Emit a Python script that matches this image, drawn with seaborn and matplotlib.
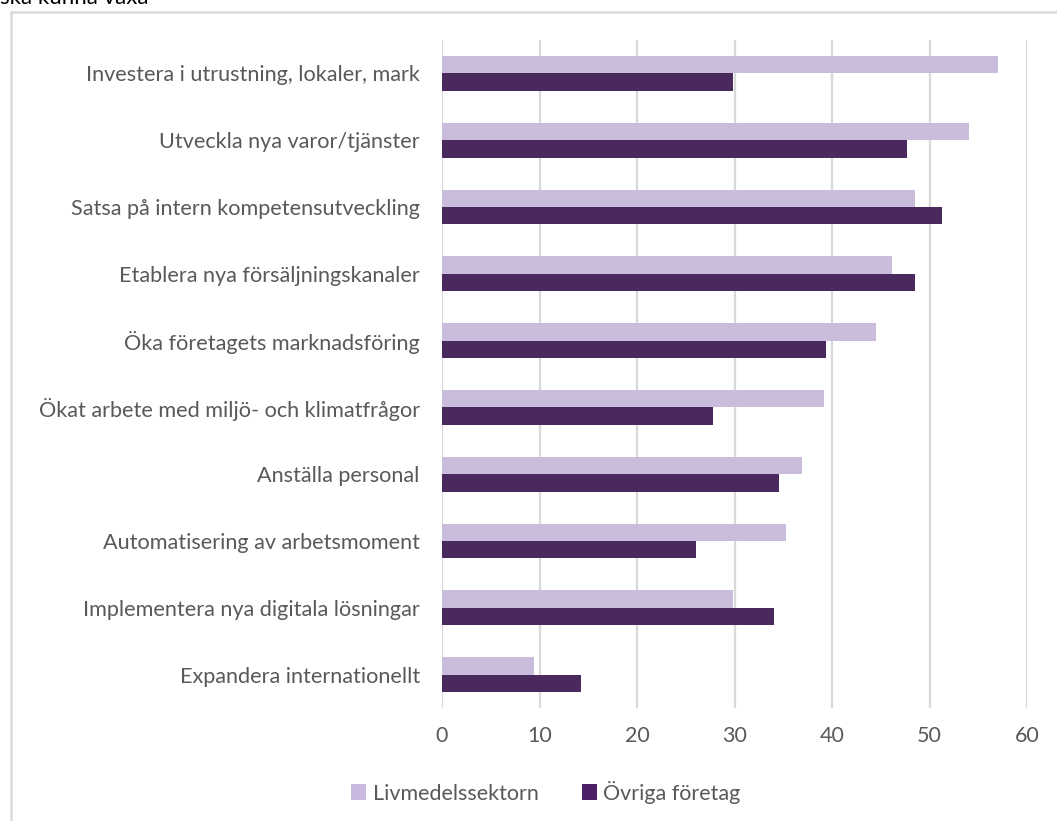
import matplotlib
matplotlib.use("Agg")
import matplotlib.pyplot as plt
from matplotlib.patches import Patch
import seaborn as sns
import pandas as pd

categories = [
    "Investera i utrustning, lokaler, mark",
    "Utveckla nya varor/tjänster",
    "Satsa på intern kompetensutveckling",
    "Etablera nya försäljningskanaler",
    "Öka företagets marknadsföring",
    "Ökat arbete med miljö- och klimatfrågor",
    "Anställa personal",
    "Automatisering av arbetsmoment",
    "Implementera nya digitala lösningar",
    "Expandera internationellt",
]
livmedel = [57.0, 54.1, 48.5, 46.2, 44.5, 39.2, 36.9, 35.3, 29.8, 9.4]
ovriga = [29.8, 47.7, 51.3, 48.5, 39.4, 27.8, 34.6, 26.1, 34.0, 14.3]
series_names = ["Livmedelssektorn", "Övriga företag"]
colors = ["#C9B8E0", "#4B2067"]
xticks = [0, 10, 20, 30, 40, 50, 60]

df = pd.DataFrame({
    "Åtgärd": categories * 2,
    "Andel": livmedel + ovriga,
    "Grupp": [series_names[0]] * len(categories) + [series_names[1]] * len(categories),
})

sns.set_theme(style="white")
plt.rcParams["font.family"] = ["Lato", "DejaVu Sans"]

fig = plt.figure(figsize=(10.57, 8.21), dpi=100)
ax = fig.add_axes([442 / 1057, 1 - 708 / 821, 585 / 1057, 668 / 821])

sns.barplot(
    data=df, y="Åtgärd", x="Andel", hue="Grupp",
    order=categories, hue_order=series_names,
    palette=colors, width=0.52, gap=0, orient="h",
    edgecolor=None, linewidth=0, ax=ax, legend=False,
)

ax.set_xlim(0, 60)
ax.set_ylim(len(categories) - 0.5, -0.5)
ax.set_xticks(xticks)
ax.set_xticklabels([str(t) for t in xticks])
ax.set_xlabel("")
ax.set_ylabel("")
ax.grid(axis="x", color="#D9D9D9", linewidth=1.6)
ax.grid(axis="y", visible=False)
ax.set_axisbelow(True)
for s in ax.spines.values():
    s.set_visible(False)
ax.tick_params(axis="y", length=0, pad=16, labelsize=15.6, labelcolor="#595959")
ax.tick_params(axis="x", length=0, pad=13, labelsize=15.5, labelcolor="#595959")

handles = [Patch(facecolor=c, edgecolor="none") for c in colors]
fig.legend(
    handles, series_names, loc="center", bbox_to_anchor=(546 / 1057, 1 - 792 / 821),
    ncol=2, frameon=False, fontsize=15.5, handlelength=0.7, handleheight=0.7,
    handletextpad=0.3, columnspacing=2.0, labelcolor="#595959",
)

# chart frame (top and left edges visible, continuing past the figure edge)
fig.add_artist(plt.Line2D([10.5 / 1057, 1.01], [1 - 12.5 / 821, 1 - 12.5 / 821],
                          transform=fig.transFigure, color="#D9D9D9", linewidth=1.8))
fig.add_artist(plt.Line2D([10.5 / 1057, 10.5 / 1057], [-0.01, 1 - 12.5 / 821],
                          transform=fig.transFigure, color="#D9D9D9", linewidth=1.8))

# tail of the heading above the chart
fig.text(0.0, 1 - 4 / 821, "ska kunna växa", fontsize=16, color="#000000",
         ha="left", va="baseline")

fig.savefig("out.png", dpi=100)
